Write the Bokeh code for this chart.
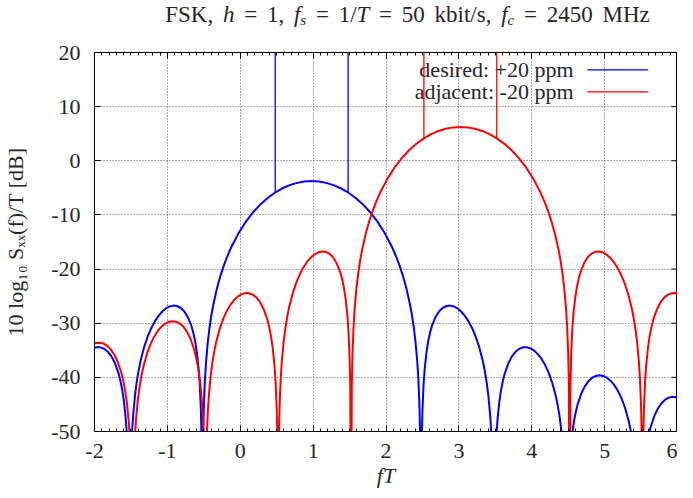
import numpy as np
from bokeh.plotting import figure
from bokeh.models import Range1d, SingleIntervalTicker, LinearAxis, Label, CustomJSTickFormatter, Div
from bokeh.layouts import column
from bokeh.embed import file_html
from bokeh.resources import INLINE

# ---------------- data ----------------
blue_fT = [-2.000, -1.970, -1.920, -1.870, -1.820, -1.770, -1.720, -1.670, -1.645, -1.620, -1.595, -1.570,
           -1.555, -1.540, -1.530, -1.520, -1.510, -1.500, -1.485, -1.470, -1.445, -1.420, -1.395, -1.370,
           -1.320, -1.270, -1.220, -1.170, -1.120, -1.070, -1.020, -0.970, -0.920, -0.870, -0.820, -0.770,
           -0.720, -0.670, -0.645, -0.620, -0.595, -0.570, -0.555, -0.540, -0.530, -0.520, -0.510, -0.500,
           -0.485, -0.470, -0.445, -0.420, -0.395, -0.370, -0.320, -0.270, -0.220, -0.170, -0.120, -0.020,
           0.080, 0.180, 0.280, 0.380, 0.480, 0.580, 0.680, 0.780, 0.880, 0.980,
           1.080, 1.180, 1.280, 1.380, 1.480, 1.580, 1.680, 1.780, 1.880, 1.980, 2.080, 2.130,
           2.180, 2.230, 2.280, 2.330, 2.355, 2.380, 2.405, 2.430, 2.445, 2.460, 2.470, 2.480,
           2.490, 2.500, 2.515, 2.530, 2.555, 2.580, 2.605, 2.630, 2.680, 2.730, 2.780, 2.830,
           2.880, 2.930, 2.980, 3.030, 3.080, 3.130, 3.180, 3.230, 3.280, 3.330, 3.355, 3.380,
           3.405, 3.430, 3.445, 3.460, 3.470, 3.480, 3.490, 3.500, 3.515, 3.530, 3.555, 3.580,
           3.605, 3.630, 3.680, 3.730, 3.780, 3.830, 3.880, 3.930, 3.980, 4.030, 4.080, 4.130,
           4.180, 4.230, 4.280, 4.330, 4.355, 4.380, 4.405, 4.430, 4.445, 4.460, 4.480, 4.500,
           4.515, 4.530, 4.555, 4.580, 4.605, 4.630, 4.680, 4.730, 4.780, 4.830, 4.880, 4.930,
           4.980, 5.030, 5.080, 5.130, 5.180, 5.230, 5.280, 5.330, 5.355, 5.380, 5.405, 5.430,
           5.460, 5.480, 5.500, 5.530, 5.555, 5.580, 5.605, 5.630, 5.680, 5.730, 5.780, 5.830,
           5.880, 5.930, 5.980, 6.000]
blue_db = [-34.53, -34.44, -34.46, -34.72, -35.23, -36.08, -37.36, -39.26, -40.58, -42.26, -44.53, -47.82,
           -50.80, -55.54, -61.49, -80.00, -61.34, -55.25, -50.30, -47.10, -43.44, -40.81, -38.77, -37.09,
           -34.46, -32.45, -30.87, -29.61, -28.61, -27.84, -27.27, -26.91, -26.75, -26.82, -27.14, -27.78,
           -28.84, -30.51, -31.70, -33.26, -35.40, -38.56, -41.46, -46.11, -52.00, -80.00, -51.74, -45.59,
           -40.55, -37.26, -33.44, -30.65, -28.43, -26.58, -23.57, -21.16, -19.14, -17.40, -15.87, -13.29,
           -11.19, -9.45, -8.01, -6.82, -5.85, -5.08, -4.49, -4.08, -3.83, -3.75,
           -3.83, -4.08, -4.49, -5.08, -5.85, -6.82, -8.01, -9.45, -11.19, -13.29, -15.87, -17.40,
           -19.14, -21.16, -23.57, -26.58, -28.43, -30.65, -33.44, -37.26, -40.55, -45.59, -51.74, -80.00,
           -52.00, -46.11, -41.46, -38.56, -35.40, -33.26, -31.70, -30.51, -28.84, -27.78, -27.14, -26.82,
           -26.75, -26.91, -27.27, -27.84, -28.61, -29.61, -30.87, -32.45, -34.46, -37.09, -38.77, -40.81,
           -43.44, -47.10, -50.30, -55.25, -61.34, -80.00, -61.49, -55.54, -50.80, -47.82, -44.53, -42.26,
           -40.58, -39.26, -37.36, -36.08, -35.23, -34.72, -34.46, -34.44, -34.63, -35.03, -35.66, -36.51,
           -37.62, -39.07, -40.95, -43.46, -45.07, -47.06, -49.63, -53.23, -56.40, -61.31, -80.00, -61.51,
           -56.75, -53.73, -50.39, -48.07, -46.34, -44.98, -42.97, -41.61, -40.67, -40.06, -39.73, -39.62,
           -39.74, -40.06, -40.61, -41.39, -42.44, -43.81, -45.63, -48.07, -49.66, -51.62, -54.16, -57.72,
           -65.77, -80.00, -65.93, -58.11, -54.74, -52.40, -50.64, -49.25, -47.20, -45.77, -44.78, -44.13,
           -43.74, -43.59, -43.66, -43.75]

red_fT = [-2.000, -1.980, -1.930, -1.880, -1.830, -1.780, -1.730, -1.680, -1.630, -1.605, -1.580, -1.555,
          -1.530, -1.515, -1.500, -1.480, -1.460, -1.445, -1.430, -1.405, -1.380, -1.355, -1.330, -1.280,
          -1.230, -1.180, -1.130, -1.080, -1.030, -0.980, -0.930, -0.880, -0.830, -0.780, -0.730, -0.680,
          -0.630, -0.605, -0.580, -0.555, -0.530, -0.515, -0.500, -0.480, -0.460, -0.445, -0.430, -0.405,
          -0.380, -0.355, -0.330, -0.280, -0.230, -0.180, -0.130, -0.080, -0.030, 0.020, 0.070, 0.120,
          0.170, 0.220, 0.270, 0.320, 0.370, 0.395, 0.420, 0.445, 0.470, 0.485, 0.500, 0.510,
          0.520, 0.530, 0.540, 0.555, 0.570, 0.595, 0.620, 0.645, 0.670, 0.720, 0.770, 0.820,
          0.870, 0.920, 0.970, 1.020, 1.070, 1.120, 1.170, 1.220, 1.270, 1.320, 1.370, 1.395,
          1.420, 1.445, 1.470, 1.485, 1.500, 1.510, 1.520, 1.530, 1.540, 1.555, 1.570, 1.595,
          1.620, 1.645, 1.670, 1.720, 1.770, 1.820, 1.870, 1.920, 2.020, 2.120, 2.220, 2.320,
          2.420, 2.520, 2.620, 2.720, 2.820, 2.920, 3.020,
          3.120, 3.220, 3.320, 3.420, 3.520, 3.620, 3.720, 3.820, 3.920, 4.020, 4.120, 4.170,
          4.220, 4.270, 4.320, 4.370, 4.395, 4.420, 4.445, 4.470, 4.485, 4.500, 4.510, 4.520,
          4.530, 4.540, 4.555, 4.570, 4.595, 4.620, 4.645, 4.670, 4.720, 4.770, 4.820, 4.870,
          4.920, 4.970, 5.020, 5.070, 5.120, 5.170, 5.220, 5.270, 5.320, 5.370, 5.395, 5.420,
          5.445, 5.470, 5.485, 5.500, 5.510, 5.520, 5.530, 5.540, 5.555, 5.570, 5.595, 5.620,
          5.645, 5.670, 5.720, 5.770, 5.820, 5.870, 5.920, 5.970, 6.000]
red_db = [-33.75, -33.66, -33.59, -33.74, -34.13, -34.78, -35.77, -37.20, -39.25, -40.64, -42.40, -44.74,
          -48.11, -51.15, -55.93, -80.00, -55.77, -50.87, -47.72, -44.16, -41.62, -39.66, -38.07, -35.63,
          -33.81, -32.44, -31.39, -30.61, -30.06, -29.74, -29.62, -29.73, -30.06, -30.67, -31.61, -32.97,
          -34.98, -36.34, -38.07, -40.39, -43.73, -46.75, -51.51, -80.00, -51.31, -46.40, -43.23, -39.63,
          -37.06, -35.07, -33.46, -30.95, -29.07, -27.62, -26.51, -25.66, -25.03, -24.63, -24.44, -24.46,
          -24.72, -25.23, -26.08, -27.36, -29.26, -30.58, -32.26, -34.53, -37.82, -40.80, -45.54, -51.49,
          -80.00, -51.34, -45.25, -40.30, -37.10, -33.44, -30.81, -28.77, -27.09, -24.46, -22.45, -20.87,
          -19.61, -18.61, -17.84, -17.27, -16.91, -16.75, -16.82, -17.14, -17.78, -18.84, -20.51, -21.70,
          -23.26, -25.40, -28.56, -31.46, -36.11, -42.00, -80.00, -41.74, -35.59, -30.55, -27.26, -23.44,
          -20.65, -18.43, -16.58, -13.57, -11.16, -9.14, -7.40, -5.87, -3.29, -1.19, 0.55, 1.99,
          3.18, 4.15, 4.92, 5.51, 5.92, 6.17, 6.25,
          6.17, 5.92, 5.51, 4.92, 4.15, 3.18, 1.99, 0.55, -1.19, -3.29, -5.87, -7.40,
          -9.14, -11.16, -13.57, -16.58, -18.43, -20.65, -23.44, -27.26, -30.55, -35.59, -41.74, -80.00,
          -42.00, -36.11, -31.46, -28.56, -25.40, -23.26, -21.70, -20.51, -18.84, -17.78, -17.14, -16.82,
          -16.75, -16.91, -17.27, -17.84, -18.61, -19.61, -20.87, -22.45, -24.46, -27.09, -28.77, -30.81,
          -33.44, -37.10, -40.30, -45.25, -51.34, -80.00, -51.49, -45.54, -40.80, -37.82, -34.53, -32.26,
          -30.58, -29.26, -27.36, -26.08, -25.23, -24.72, -24.46, -24.44, -24.53]

# discrete spectral lines (they run off the top of the chart)
blue_line_fT = [0.48, 1.48]
blue_line_base = [-5.85, -5.85]
red_line_fT = [2.52, 3.52]
red_line_base = [4.15, 4.15]

y_major = [-50, -40, -30, -20, -10, 0, 10, 20]

legend_labels = ["desired: +20 ppm", "adjacent: -20 ppm"]
x_label = "fT"
y_label = "10 log\u2081\u2080 S\u2093\u2093(f)/T [dB]"
title_html = ("FSK, <i>h</i> = 1, <i>f</i><span class='s'><i>s</i></span> = 1/<i>T</i> = 50 kbit/s, "
              "<i>f</i><span class='s'><i>c</i></span> = 2450 MHz")

# ---------------- styling / layout ----------------
FONT = "Liberation Serif"
TXT = "#262626"
FS = "22px"
BLUE = "#0000ff"
RED = "#ff0000"

X0, X1, Y0, Y1 = -2, 6, -50, 20
# reference frame geometry in image pixels (for placing annotations)
FL, FR, FT_, FB = 98.5, 684.5, 52.0, 432.0
PXX = (FR - FL) / (X1 - X0)
PXY = (FB - FT_) / (Y1 - Y0)


def fx(px):
    return X0 + (px - FL) / PXX


def fy(py):
    return Y1 - (py - FT_) / PXY


TITLE_H = 30
p = figure(width=677, height=490 - TITLE_H, x_range=Range1d(X0, X1), y_range=Range1d(Y0, Y1),
           output_backend="svg", toolbar_location=None,
           min_border_left=94, min_border_right=0, min_border_top=52 - TITLE_H, min_border_bottom=58)
p.background_fill_color = "white"
p.border_fill_color = "white"
p.outline_line_color = "black"
p.outline_line_width = 1

xt = SingleIntervalTicker(interval=1, num_minor_ticks=10)
yt = SingleIntervalTicker(interval=10, num_minor_ticks=0)
hyphen_fmt = CustomJSTickFormatter(code="return tick.toFixed(0)")

xa = p.xaxis[0]
ya = p.yaxis[0]
xa.ticker = xt
ya.ticker = yt
for ax in (xa, ya):
    ax.formatter = hyphen_fmt
    ax.axis_line_color = "black"
    ax.major_tick_line_color = "black"
    ax.minor_tick_line_color = "black"
    ax.major_tick_in = 6
    ax.major_tick_out = 0
    ax.minor_tick_in = 3
    ax.minor_tick_out = 0
    ax.major_label_text_font = FONT
    ax.major_label_text_font_size = FS
    ax.major_label_text_color = TXT
    ax.axis_label_text_font = FONT
    ax.axis_label_text_font_size = FS
    ax.axis_label_text_color = TXT
ya.minor_tick_line_color = None
xa.major_label_standoff = 12
ya.major_label_standoff = 14
xa.axis_label = x_label
xa.axis_label_text_font_style = "italic"
xa.axis_label_standoff = 2
ya.axis_label = y_label
ya.axis_label_text_font_style = "normal"
ya.axis_label_standoff = 20

blank = CustomJSTickFormatter(code="return ''")
top = LinearAxis(ticker=xt, formatter=blank, major_tick_in=6, major_tick_out=0,
                 minor_tick_in=3, minor_tick_out=0, major_label_standoff=0,
                 major_label_text_font_size="1px", axis_line_color="black")
p.add_layout(top, "above")

for g in (p.xgrid[0], p.ygrid[0]):
    g.grid_line_color = "#555555"
    g.grid_line_dash = "1 2"
    g.grid_line_width = 1
p.xgrid[0].ticker = xt
p.ygrid[0].ticker = yt

# mirrored major ticks on the right-hand border
tick_len = 6 / PXX
p.segment(x0=[X1] * len(y_major), x1=[X1 - tick_len] * len(y_major), y0=y_major, y1=y_major,
          line_color="black", line_width=1)

# curves
p.line(blue_fT, blue_db, line_color=BLUE, line_width=2)
p.line(red_fT, red_db, line_color=RED, line_width=2)

# spectral lines
p.segment(x0=blue_line_fT, x1=blue_line_fT, y0=blue_line_base, y1=[Y1] * 2,
          line_color=BLUE, line_width=1.3, level="overlay")
p.segment(x0=red_line_fT, x1=red_line_fT, y0=red_line_base, y1=[Y1] * 2,
          line_color=RED, line_width=1.3, level="overlay")

# legend (gnuplot style: text right-aligned, sample line to the right)
for lab, py, col in ((legend_labels[0], 69.5, BLUE), (legend_labels[1], 91.5, RED)):
    p.add_layout(Label(x=fx(580), y=fy(py), text=lab, text_align="right", text_baseline="middle",
                       text_font=FONT, text_font_size=FS, text_color=TXT))
    p.segment(x0=[fx(594)], x1=[fx(655)], y0=[fy(py)], y1=[fy(py)], line_color=col, line_width=1.3)

# title as HTML so that variables can be italic and subscripted
css = ("<style>"
       ".t{width:677px;box-sizing:border-box;padding-left:138px;padding-top:2px;text-align:center;"
       "white-space:nowrap;font-family:'Liberation Serif',serif;font-size:23px;line-height:26px;"
       "word-spacing:4px;color:%s;}"
       ".s{font-size:15px;vertical-align:-3px;}"
       "</style>") % TXT
title_div = Div(text=css + "<div class='t'>" + title_html + "</div>",
                width=677, height=TITLE_H, margin=0)

layout = column(title_div, p, spacing=0, margin=0)
open("out.html", "w").write(file_html(layout, INLINE))
